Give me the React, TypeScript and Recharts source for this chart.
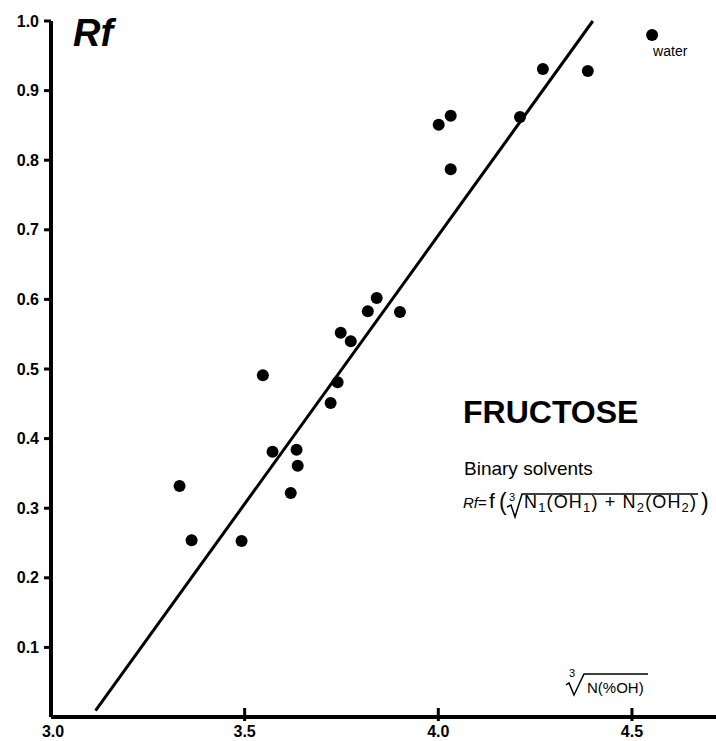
import { ScatterChart, Scatter, XAxis, YAxis, ReferenceLine } from 'recharts'

// cube root of N(%OH) for each binary solvent
const solventX = [
  3.332, 3.363, 3.492, 3.547, 3.572, 3.634, 3.637, 3.619, 3.722, 3.74, 3.748,
  3.774, 3.818, 3.841, 3.901, 4.001, 4.032, 4.032, 4.211, 4.27, 4.386, 4.552,
]
// Rf of fructose
const rfValues = [
  0.332, 0.254, 0.253, 0.491, 0.381, 0.384, 0.361, 0.322, 0.451, 0.481, 0.552,
  0.54, 0.583, 0.602, 0.582, 0.851, 0.864, 0.787, 0.862, 0.931, 0.928, 0.98,
]
const pointLabels = [
  '', '', '', '', '', '', '', '', '', '', '', '', '', '', '', '', '', '', '', '', '', 'water',
]
const fitLine = [
  { x: 3.115, y: 0.009 },
  { x: 4.399, y: 1.0 },
]
const xTicks = [3.0, 3.5, 4.0, 4.5]
const yTicks = [0.1, 0.2, 0.3, 0.4, 0.5, 0.6, 0.7, 0.8, 0.9, 1.0]

const W = 716
const H = 741
const AXIS_Y = 717

const points = solventX.map((x, i) => ({ x, rf: rfValues[i], label: pointLabels[i] }))

const Dot = (props: any) => {
  const { cx, cy, payload } = props
  return (
    <g>
      <circle cx={cx} cy={cy} r={6} fill="#000" />
      {payload.label ? (
        <text x={cx + 1} y={cy + 21} fontSize={14} fill="#000">
          {payload.label}
        </text>
      ) : null}
    </g>
  )
}

const XTick = (props: any) => {
  const { x, payload } = props
  const first = payload.value === 3
  return (
    <g>
      {!first && <line x1={x} x2={x} y1={AXIS_Y - 9} y2={AXIS_Y + 4} stroke="#000" strokeWidth={3} />}
      <text x={x + (first ? 2 : 0)} y={AXIS_Y + 20} textAnchor="middle" fontSize={16} fontWeight={700} fill="#000">
        {payload.value.toFixed(1)}
      </text>
    </g>
  )
}

export default function App() {
  return (
    <div
      style={{
        position: 'absolute',
        left: 0,
        top: 0,
        width: W,
        height: H,
        background: '#fff',
        fontFamily: '"Liberation Sans", Arial, sans-serif',
      }}
    >
      <ScatterChart width={W} height={H} margin={{ top: 21, right: 0, bottom: 0, left: 0 }}>
        <XAxis
          type="number"
          dataKey="x"
          domain={[3.0, 4.717]}
          ticks={xTicks}
          allowDataOverflow
          height={24}
          tickSize={0}
          tickMargin={0}
          tick={<XTick />}
          axisLine={{ stroke: '#000', strokeWidth: 4 }}
        />
        <YAxis
          type="number"
          dataKey="rf"
          domain={[0, 1]}
          ticks={yTicks}
          width={51}
          tickSize={7}
          tickMargin={5}
          tickFormatter={(v: number) => v.toFixed(1)}
          tick={{ fontSize: 16, fontWeight: 700, fill: '#000' }}
          tickLine={{ stroke: '#000', strokeWidth: 3 }}
          axisLine={{ stroke: '#000', strokeWidth: 4 }}
        />
        <ReferenceLine segment={fitLine} stroke="#000" strokeWidth={3} ifOverflow="visible" />
        <Scatter data={points} shape={<Dot />} isAnimationActive={false} />
      </ScatterChart>

      <svg
        width={W}
        height={H}
        style={{ position: 'absolute', left: 0, top: 0, pointerEvents: 'none' }}
      >
        <text x={73} y={46} fontSize={38} fontWeight={700} fontStyle="italic" fill="#000">
          Rf
        </text>

        <text x={463} y={423} fontSize={32} fontWeight={700} fill="#000">
          FRUCTOSE
        </text>
        <text x={464} y={475} fontSize={19} fill="#000">
          Binary solvents
        </text>

        {/* Rf = f( cube root of N1(OH1) + N2(OH2) ) */}
        <text x={463} y={508} fontSize={15} fontStyle="italic" fill="#000">
          Rf
        </text>
        <text x={478} y={508} fontSize={15} fill="#000">
          =
        </text>
        <text x={489} y={508} fontSize={21} fill="#000">
          f
        </text>
        <text x={499} y={510} fontSize={23} fill="#000">
          (
        </text>
        <text x={509} y={501} fontSize={11} fill="#000">
          3
        </text>
        <path d="M507,507 L511,505 L515,517 L522,494 L698,494" fill="none" stroke="#000" strokeWidth={1.5} />
        <text x={524} y={508} fontSize={18} fill="#000" textLength={172} lengthAdjust="spacing">
          N<tspan fontSize={13} dy={4}>1</tspan>
          <tspan dy={-4}>(OH</tspan>
          <tspan fontSize={13} dy={4}>1</tspan>
          <tspan dy={-4}>) + N</tspan>
          <tspan fontSize={13} dy={4}>2</tspan>
          <tspan dy={-4}>(OH</tspan>
          <tspan fontSize={13} dy={4}>2</tspan>
          <tspan dy={-4}>)</tspan>
        </text>
        <text x={701} y={510} fontSize={23} fill="#000">
          )
        </text>

        {/* x-axis quantity: cube root of N(%OH) */}
        <text x={569} y={677} fontSize={11} fill="#000">
          3
        </text>
        <path d="M566,685 L569,683 L574,695 L584,674 L648,674" fill="none" stroke="#000" strokeWidth={1.5} />
        <text x={587} y={693} fontSize={15} fill="#000">
          N(%OH)
        </text>
      </svg>
    </div>
  )
}
